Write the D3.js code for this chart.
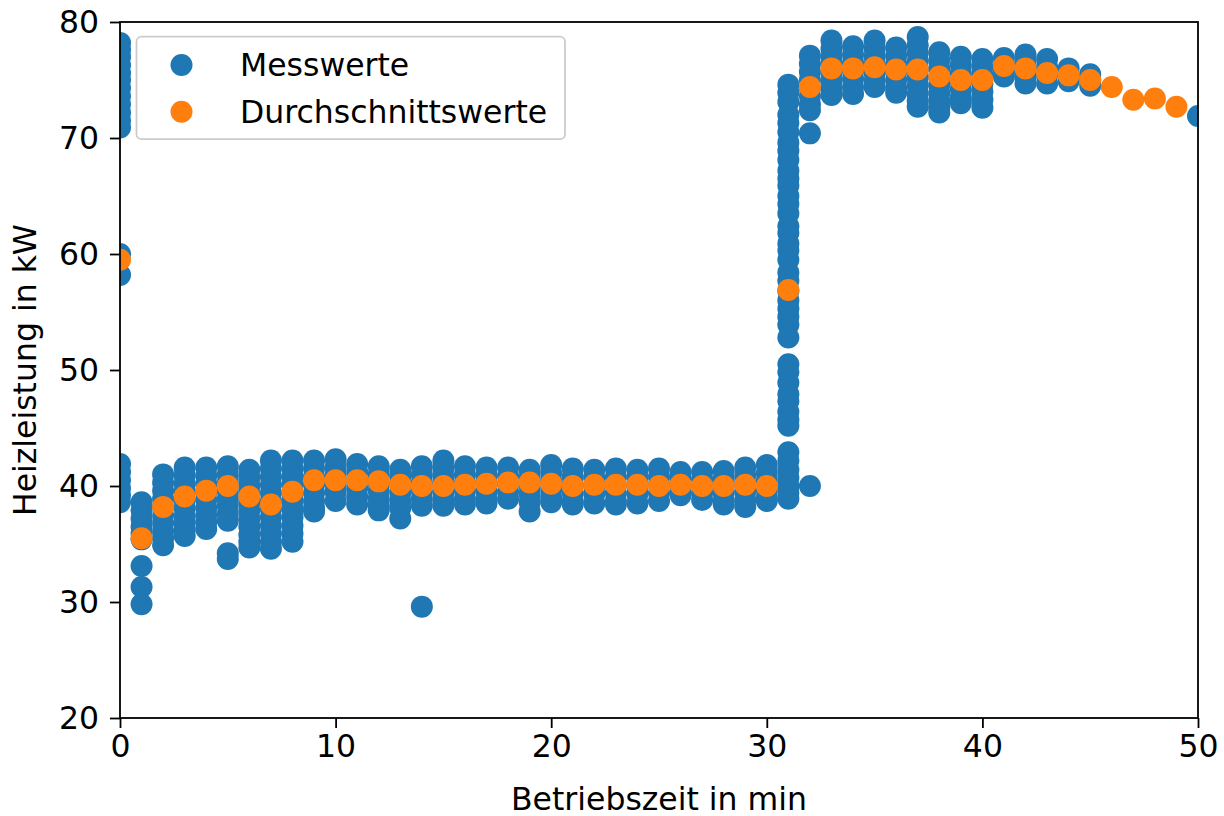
<!DOCTYPE html>
<html>
<head>
<meta charset="utf-8">
<script src="https://cdn.jsdelivr.net/npm/d3@7"></script>
<style>
  html, body { margin: 0; padding: 0; background: #ffffff; }
  svg { display: block; font-family: "DejaVu Sans", sans-serif; }
</style>
</head>
<body>
<svg id="chart" width="1224" height="816"></svg>
<script>
// Betriebsminuten mit Messwerten
const messMinuten = [0, 1, 2, 3, 4, 5, 6, 7, 8, 9, 10, 11, 12, 13, 14, 15, 16, 17, 18, 19,
  20, 21, 22, 23, 24, 25, 26, 27, 28, 29, 30, 31, 32, 33, 34, 35, 36, 37, 38, 39,
  40, 41, 42, 43, 44, 45, 50];

// Gemessene Heizleistung in kW je Minute (gleiche Reihenfolge wie messMinuten)
const messLeistung = [
  [78.2, 77.6, 77.0, 76.3, 75.6, 75.0, 74.3, 73.6, 72.9, 72.2, 71.5, 70.9, 60.0, 58.2, 41.9, 41.2, 40.5, 39.8, 39.2, 38.6],
  [38.6, 37.9, 37.2, 36.5, 35.9, 35.4, 33.1, 31.3, 29.8],
  [41.0, 40.3, 39.6, 38.9, 38.2, 37.5, 36.8, 36.1, 35.5, 34.9],
  [41.6, 40.9, 40.2, 39.5, 38.8, 38.1, 37.4, 36.8, 36.2, 35.7],
  [41.6, 40.9, 40.2, 39.5, 38.8, 38.1, 37.5, 36.9, 36.3],
  [41.7, 41.0, 40.3, 39.6, 38.9, 38.3, 37.6, 37.0, 34.2, 33.7],
  [41.4, 40.7, 40.0, 39.3, 38.6, 37.9, 37.2, 36.5, 35.8, 35.2, 34.7],
  [42.2, 41.5, 40.8, 40.1, 39.4, 38.7, 38.0, 37.3, 36.6, 35.9, 35.2, 34.6],
  [42.2, 41.5, 40.8, 40.1, 39.4, 38.7, 38.0, 37.3, 36.6, 35.9, 35.2],
  [42.2, 41.5, 40.8, 40.1, 39.4, 38.7, 38.1, 37.8],
  [42.3, 41.6, 40.9, 40.2, 39.5, 38.7],
  [41.9, 41.2, 40.5, 39.8, 39.1, 38.4],
  [41.7, 41.0, 40.3, 39.6, 38.9, 38.3, 37.9],
  [41.4, 40.8, 40.1, 39.4, 38.7, 38.1, 37.2],
  [41.7, 41.0, 40.3, 39.6, 38.9, 38.3, 29.6],
  [42.2, 41.5, 40.8, 40.1, 39.4, 38.7, 38.3],
  [41.7, 41.0, 40.3, 39.6, 38.9, 38.4],
  [41.6, 40.9, 40.2, 39.5, 38.8, 38.5],
  [41.6, 40.9, 40.2, 39.5, 38.9],
  [41.4, 40.7, 40.0, 39.3, 38.6, 37.8],
  [41.8, 41.1, 40.4, 39.7, 39.0, 38.6],
  [41.5, 40.8, 40.1, 39.4, 38.7, 38.4],
  [41.4, 40.7, 40.0, 39.3, 38.5],
  [41.5, 40.8, 40.1, 39.4, 38.7, 38.4],
  [41.4, 40.7, 40.0, 39.3, 38.5],
  [41.5, 40.8, 40.1, 39.4, 38.7],
  [41.2, 40.6, 40.0, 39.4, 39.2],
  [41.2, 40.6, 40.0, 39.4, 38.8],
  [41.3, 40.6, 40.0, 39.4, 38.7, 38.4],
  [41.6, 40.9, 40.2, 39.5, 38.8, 38.2],
  [41.8, 41.1, 40.4, 39.7, 39.0, 38.7],
  [74.6, 73.9, 73.1, 72.0, 71.3, 70.5, 69.6, 68.9, 68.1, 67.2, 66.5, 65.9, 65.0, 64.3, 63.5,
   62.4, 61.8, 60.9, 60.3, 59.5, 58.4, 57.7, 56.8, 56.0, 55.3, 54.6, 53.9, 52.8,
   50.5, 49.8, 48.9, 47.9, 47.3, 46.4, 45.7, 45.2, 42.9, 42.2, 41.4, 40.7, 40.0, 39.4, 38.9],
  [77.1, 76.4, 75.7, 75.0, 74.3, 73.6, 72.9, 72.4, 70.4, 40.0],
  [78.4, 77.7, 77.0, 76.3, 75.6, 74.9, 74.2, 73.7],
  [77.9, 77.2, 76.5, 75.8, 75.1, 74.4, 73.8],
  [78.4, 77.7, 77.0, 76.3, 75.6, 74.9, 74.4],
  [77.8, 77.1, 76.4, 75.7, 75.0, 74.3, 73.9],
  [78.7, 78.0, 77.3, 76.6, 75.9, 75.2, 74.5, 73.8, 73.2, 72.7],
  [77.4, 76.7, 76.0, 75.3, 74.6, 73.9, 73.2, 72.6, 72.2],
  [77.0, 76.3, 75.6, 74.9, 74.2, 73.5, 73.0],
  [76.8, 76.1, 75.4, 74.7, 74.0, 73.3, 72.6],
  [76.9, 76.3, 75.7, 75.3],
  [77.2, 76.5, 75.8, 75.2, 74.7],
  [76.8, 76.1, 75.4, 74.7],
  [76.0, 75.4, 74.9],
  [75.5, 75.0, 74.5],
  [71.9]
];

// Durchschnittswerte je Betriebsminute
const mittelMinuten = [0, 1, 2, 3, 4, 5, 6, 7, 8, 9, 10, 11, 12, 13, 14, 15, 16, 17, 18, 19,
  20, 21, 22, 23, 24, 25, 26, 27, 28, 29, 30, 31, 32, 33, 34, 35, 36, 37, 38, 39,
  40, 41, 42, 43, 44, 45, 46, 47, 48, 49];
const mittelLeistung = [59.5, 35.5, 38.2, 39.1, 39.6, 40.0, 39.1, 38.4, 39.5, 40.5,
  40.5, 40.5, 40.4, 40.1, 40.0, 40.0, 40.1, 40.2, 40.3, 40.3,
  40.2, 40.0, 40.1, 40.1, 40.1, 40.0, 40.1, 40.0, 40.0, 40.1,
  40.0, 56.9, 74.4, 76.0, 76.0, 76.1, 75.9, 75.9, 75.3, 75.0,
  75.0, 76.2, 76.0, 75.6, 75.4, 75.0, 74.4, 73.3, 73.4, 72.7];

// Achsen
const xTicks = [0, 10, 20, 30, 40, 50];
const yTicks = [20, 30, 40, 50, 60, 70, 80];
const xTitel = "Betriebszeit in min";
const yTitel = "Heizleistung in kW";
const legendeTexte = ["Messwerte", "Durchschnittswerte"];
const farben = ["#1f77b4", "#ff7f0e"];

const margin = { left: 120, right: 26, top: 22, bottom: 98 };
const W = 1224, H = 816;
const innerW = W - margin.left - margin.right;
const innerH = H - margin.top - margin.bottom;
const r = 11;
const fontPx = 31.5;

const svg = d3.select("#chart");
const x = d3.scaleLinear().domain([0, 50]).range([margin.left, margin.left + innerW]);
const y = d3.scaleLinear().domain([20, 80]).range([margin.top + innerH, margin.top]);

svg.append("defs").append("clipPath").attr("id", "plotClip")
  .append("rect")
  .attr("x", margin.left).attr("y", margin.top)
  .attr("width", innerW).attr("height", innerH);

const plot = svg.append("g").attr("clip-path", "url(#plotClip)");

// Messpunkte
const messPunkte = [];
messMinuten.forEach((m, i) => messLeistung[i].forEach(v => messPunkte.push([m, v])));

plot.append("g").selectAll("circle").data(messPunkte).join("circle")
  .attr("cx", d => x(d[0])).attr("cy", d => y(d[1])).attr("r", r)
  .attr("fill", farben[0]);

// Durchschnittspunkte
plot.append("g").selectAll("circle").data(mittelMinuten.map((m, i) => [m, mittelLeistung[i]])).join("circle")
  .attr("cx", d => x(d[0])).attr("cy", d => y(d[1])).attr("r", r)
  .attr("fill", farben[1]);

// Achsen
const xAxis = svg.append("g").attr("transform", `translate(0,${margin.top + innerH})`)
  .call(d3.axisBottom(x).tickValues(xTicks).tickSize(10).tickPadding(7).tickFormat(d3.format("d")));
const yAxis = svg.append("g").attr("transform", `translate(${margin.left},0)`)
  .call(d3.axisLeft(y).tickValues(yTicks).tickSize(10).tickPadding(11).tickFormat(d3.format("d")));
[xAxis, yAxis].forEach(a => {
  a.select(".domain").remove();
  a.selectAll(".tick line").attr("stroke", "#000").attr("stroke-width", 1.8);
  a.selectAll(".tick text").attr("fill", "#000")
    .style("font-size", fontPx + "px").style("font-family", "DejaVu Sans");
});

// Rahmen
svg.append("rect")
  .attr("x", margin.left).attr("y", margin.top)
  .attr("width", innerW).attr("height", innerH)
  .attr("fill", "none").attr("stroke", "#000").attr("stroke-width", 1.8);

// Achsentitel
svg.append("text")
  .attr("x", margin.left + innerW / 2).attr("y", 810)
  .attr("text-anchor", "middle")
  .style("font-size", fontPx + "px")
  .text(xTitel);

svg.append("text")
  .attr("transform", `translate(36,${margin.top + innerH / 2}) rotate(-90)`)
  .attr("text-anchor", "middle")
  .style("font-size", fontPx + "px")
  .text(yTitel);

// Legende
const leg = svg.append("g");
leg.append("rect")
  .attr("x", 136.5).attr("y", 36.7).attr("width", 428.5).attr("height", 102.5)
  .attr("rx", 5)
  .attr("fill", "#ffffff").attr("fill-opacity", 0.8)
  .attr("stroke", "#cccccc").attr("stroke-width", 1.8);
legendeTexte.forEach((t, i) => {
  const cy = 65 + i * 46.7;
  leg.append("circle").attr("cx", 181.5).attr("cy", cy).attr("r", r).attr("fill", farben[i]);
  leg.append("text").attr("x", 240).attr("y", cy + 11)
    .style("font-size", fontPx + "px").text(t);
});
</script>
</body>
</html>
